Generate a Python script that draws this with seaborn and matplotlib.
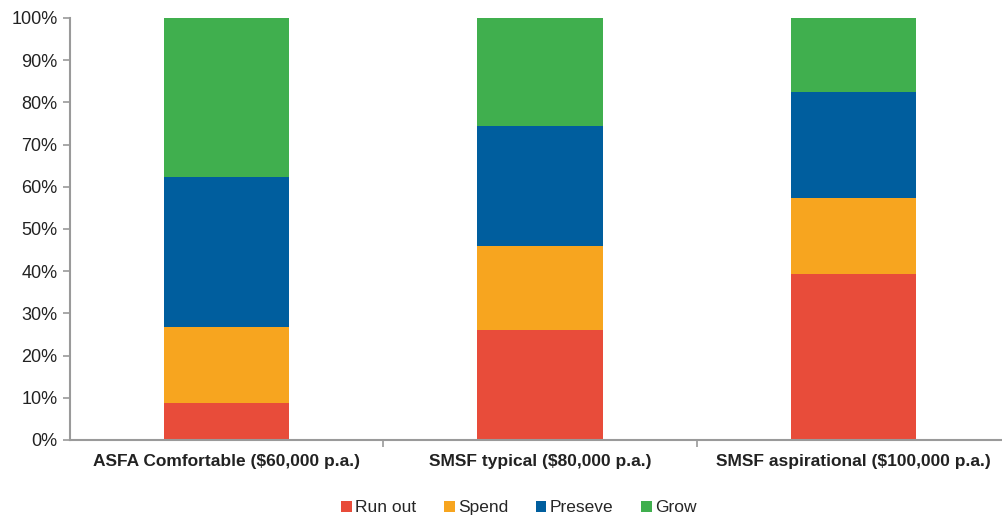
import numpy as np
import pandas as pd
import seaborn as sns
from matplotlib import pyplot as plt
from matplotlib.patches import Patch
from matplotlib.ticker import FuncFormatter, FixedLocator

categories = ['ASFA Comfortable ($60,000 p.a.)', 'SMSF typical ($80,000 p.a.)',
              'SMSF aspirational ($100,000 p.a.)']
series = ['Run out', 'Spend', 'Preseve', 'Grow']
run_out = [8.8, 26.0, 39.3]
spend = [18.0, 20.0, 18.0]
preserve = [35.5, 28.5, 25.1]
grow = [37.7, 25.5, 17.6]
colors = ['#E84C3A', '#F7A51F', '#005E9E', '#40AF4E']

sns.set_style('white')
plt.rcParams['font.family'] = ['Liberation Sans', 'DejaVu Sans']

df = pd.DataFrame({'category': categories, 'Run out': run_out, 'Spend': spend,
                   'Preseve': preserve, 'Grow': grow})
# cumulative totals, drawn from the top down so segments stack
cum = df[series].cumsum(axis=1)

fig = plt.figure(figsize=(10.02, 5.18), dpi=100)
ax = fig.add_axes([70 / 1002, 1 - 440 / 518, 940 / 1002, (440 - 18) / 518])

for s, c in reversed(list(zip(series, colors))):
    sns.barplot(x=df['category'], y=cum[s], color=c, width=0.4, ax=ax,
                saturation=1, linewidth=0)

ax.set_xlim(-0.5, 2.5)
ax.set_ylim(0, 100)
ax.set_yticks(np.arange(0, 101, 10))
ax.yaxis.set_major_formatter(FuncFormatter(lambda v, p: f'{v:.0f}%'))
ax.set_xlabel('')
ax.set_ylabel('')

for side in ['top', 'right']:
    ax.spines[side].set_visible(False)
for side in ['left', 'bottom']:
    ax.spines[side].set_color('#9a9a9a')
    ax.spines[side].set_linewidth(1.5)

ax.tick_params(axis='y', direction='out', length=5, width=1.2, color='#9a9a9a',
               labelsize=13, labelcolor='#222222', pad=4, left=True)
ax.tick_params(axis='x', which='major', length=0, pad=10)
ax.xaxis.set_minor_locator(FixedLocator([0.5, 1.5]))
ax.tick_params(axis='x', which='minor', direction='out', length=5, width=1.2,
               color='#9a9a9a', bottom=True)
for lbl in ax.get_xticklabels():
    lbl.set_fontweight('bold')
    lbl.set_fontsize(12.5)
    lbl.set_color('#222222')

handles = [Patch(facecolor=c, edgecolor='none', label=s) for s, c in zip(series, colors)]
fig.legend(handles=handles, loc='center', bbox_to_anchor=(0.518, 0.02), ncol=4,
           frameon=False, handlelength=0.6, handleheight=0.6, handletextpad=0.2,
           columnspacing=1.6, prop={'size': 12.5})

fig.savefig('out.png', dpi=100)
